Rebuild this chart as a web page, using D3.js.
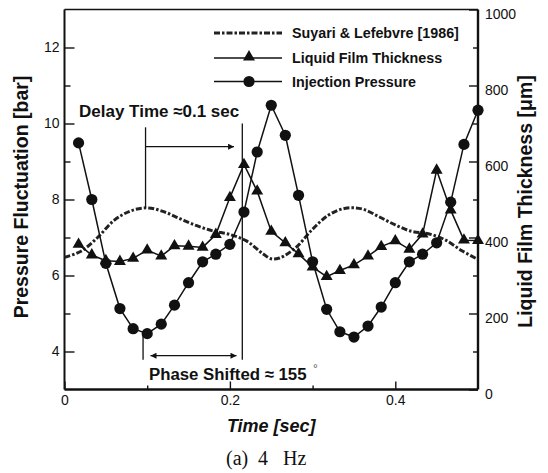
<!DOCTYPE html>
<html>
<head>
<meta charset="utf-8">
<script src="https://cdn.jsdelivr.net/npm/d3@7"></script>
<style>
  body { margin: 0; background: #fff; }
  svg { display: block; font-family: "Liberation Sans", Arial, sans-serif; }
  .tick text { font-size: 14px; fill: #111; }
  .tick line { stroke: #111; stroke-width: 1.4; }
</style>
</head>
<body>
<svg id="chart" width="548" height="473"></svg>
<script>
var timeSec = [0.017, 0.033, 0.050, 0.067, 0.083, 0.100, 0.117, 0.133, 0.150, 0.167,
  0.183, 0.200, 0.217, 0.233, 0.250, 0.267, 0.283, 0.300, 0.317, 0.333,
  0.350, 0.367, 0.383, 0.400, 0.417, 0.433, 0.450, 0.467, 0.483, 0.500];
var injectionPressure = [9.49, 8.00, 6.32, 5.13, 4.60, 4.47, 4.72, 5.22, 5.81, 6.36,
  6.56, 6.82, 7.67, 9.25, 10.48, 9.69, 8.11, 6.36, 5.11, 4.52,
  4.38, 4.67, 5.17, 5.81, 6.36, 6.56, 6.86, 7.93, 9.45, 10.35];
var filmThickness = [382, 354, 339, 337, 345, 367, 351, 378, 377, 374,
  408, 505, 592, 522, 416, 386, 357, 322, 297, 313,
  328, 351, 376, 391, 369, 409, 577, 472, 393, 392];

var suyariTime = [0, 0.02, 0.04, 0.06, 0.08, 0.10, 0.12, 0.14, 0.16, 0.18, 0.20, 0.22, 0.24, 0.25,
  0.26, 0.28, 0.30, 0.32, 0.34, 0.36, 0.38, 0.40, 0.42, 0.44, 0.46, 0.48, 0.50];
var suyariPressure = [6.48, 6.64, 7.00, 7.45, 7.70, 7.78, 7.68, 7.49, 7.31, 7.17, 7.08, 6.91, 6.57, 6.44,
  6.46, 6.74, 7.22, 7.60, 7.77, 7.75, 7.55, 7.33, 7.16, 7.10, 6.94, 6.66, 6.42];

var pressureTicks = [4, 6, 8, 10, 12];
var pressureMinorTicks = [5, 7, 9, 11];
var thicknessTicks = [0, 200, 400, 600, 800, 1000];
var thicknessMinorTicks = [100, 300, 500, 700, 900];
var timeTicks = [0, 0.2, 0.4];
var timeMinorTicks = [0.1, 0.3];
var legendLabels = ['Suyari & Lefebvre [1986]', 'Liquid Film Thickness', 'Injection Pressure'];

var ink = '#111';
var svg = d3.select('#chart');

var x = d3.scaleLinear().domain([0, 0.5]).range([64.5, 478]);
var yP = d3.scaleLinear().domain([3, 13]).range([389.5, 9.5]);
var yT = d3.scaleLinear().domain([0, 1000]).range([389.5, 9.5]);

var defs = svg.append('defs');
defs.append('marker')
  .attr('id', 'arrow')
  .attr('viewBox', '0 0 10 10')
  .attr('refX', 10).attr('refY', 5)
  .attr('markerWidth', 9).attr('markerHeight', 6)
  .attr('markerUnits', 'userSpaceOnUse')
  .attr('orient', 'auto-start-reverse')
  .append('path').attr('d', 'M0,0L10,5L0,10Z').attr('fill', ink);

// axes, ticks pointing into the plot
function noDomain(g) { g.select('.domain').remove(); }

svg.append('g').attr('transform', 'translate(' + x.range()[0] + ',0)')
  .call(d3.axisLeft(yP).tickValues(pressureTicks).tickSize(-10).tickPadding(5))
  .call(noDomain);
svg.append('g').attr('transform', 'translate(' + x.range()[0] + ',0)')
  .call(d3.axisLeft(yP).tickValues(pressureMinorTicks).tickSize(-6).tickFormat(''))
  .call(noDomain);

var rightAxis = svg.append('g').attr('transform', 'translate(' + x.range()[1] + ',0)')
  .call(d3.axisRight(yT).tickValues(thicknessTicks).tickSize(-9).tickPadding(7).tickFormat(d3.format('d')))
  .call(noDomain);
rightAxis.selectAll('text').attr('dy', '0.62em');
svg.append('g').attr('transform', 'translate(' + x.range()[1] + ',0)')
  .call(d3.axisRight(yT).tickValues(thicknessMinorTicks).tickSize(-5).tickFormat(''))
  .call(noDomain);

svg.append('g').attr('transform', 'translate(0,' + yP.range()[0] + ')')
  .call(d3.axisBottom(x).tickValues(timeTicks).tickSize(-8).tickPadding(6)
    .tickFormat(function(d) { return d === 0 ? '0' : d3.format('.1f')(d); }))
  .call(noDomain);
svg.append('g').attr('transform', 'translate(0,' + yP.range()[0] + ')')
  .call(d3.axisBottom(x).tickValues(timeMinorTicks).tickSize(-4).tickFormat(''))
  .call(noDomain);

// frame
var x0 = x.range()[0], x1 = x.range()[1], yb = yP.range()[0], yt = yP.range()[1];
var frame = svg.append('g').attr('stroke', ink).attr('fill', 'none');
frame.append('line').attr('x1', x0).attr('x2', x1).attr('y1', yt).attr('y2', yt).attr('stroke-width', 1.4);
frame.append('line').attr('x1', x0).attr('x2', x1).attr('y1', yb).attr('y2', yb).attr('stroke-width', 2.4);
frame.append('line').attr('x1', x0).attr('x2', x0).attr('y1', yt).attr('y2', yb).attr('stroke-width', 2);
frame.append('line').attr('x1', x1).attr('x2', x1).attr('y1', yt).attr('y2', yb).attr('stroke-width', 2.4);

// series
var suyariLine = d3.line().curve(d3.curveCatmullRom)
  .x(function(d) { return x(d[0]); }).y(function(d) { return yP(d[1]); });
var pressureLine = d3.line()
  .x(function(d) { return x(d[0]); }).y(function(d) { return yP(d[1]); });
var thicknessLine = d3.line()
  .x(function(d) { return x(d[0]); }).y(function(d) { return yT(d[1]); });

var suyariData = d3.zip(suyariTime, suyariPressure);
var pressureData = d3.zip(timeSec, injectionPressure);
var thicknessData = d3.zip(timeSec, filmThickness);

svg.append('path').datum(suyariData)
  .attr('d', suyariLine).attr('fill', 'none').attr('stroke', '#222')
  .attr('stroke-width', 3).attr('stroke-dasharray', '6,2,2.5,2');

svg.append('path').datum(thicknessData)
  .attr('d', thicknessLine).attr('fill', 'none').attr('stroke', ink).attr('stroke-width', 1.5);
var triangle = d3.symbol().type(d3.symbolTriangle).size(62);
svg.append('g').selectAll('path').data(thicknessData).join('path')
  .attr('d', triangle)
  .attr('transform', function(d) { return 'translate(' + x(d[0]) + ',' + yT(d[1]) + ')'; })
  .attr('fill', ink);

svg.append('path').datum(pressureData)
  .attr('d', pressureLine).attr('fill', 'none').attr('stroke', ink).attr('stroke-width', 1.5);
svg.append('g').selectAll('circle').data(pressureData).join('circle')
  .attr('cx', function(d) { return x(d[0]); })
  .attr('cy', function(d) { return yP(d[1]); })
  .attr('r', 5.6).attr('fill', ink);

// annotations
var notes = svg.append('g').attr('stroke', ink).attr('stroke-width', 1.3);
notes.append('line').attr('x1', x(0.098)).attr('x2', x(0.098)).attr('y1', yP(9.9)).attr('y2', yP(7.78));
notes.append('line').attr('x1', x(0.215)).attr('x2', x(0.215)).attr('y1', yP(10.0)).attr('y2', yP(3.78));
notes.append('line').attr('x1', x(0.095)).attr('x2', x(0.095)).attr('y1', yP(4.45)).attr('y2', yP(3.78));
notes.append('line').attr('x1', x(0.098)).attr('x2', x(0.205)).attr('y1', yP(9.39)).attr('y2', yP(9.39))
  .attr('marker-end', 'url(#arrow)');
notes.append('line').attr('x1', x(0.104)).attr('x2', x(0.208)).attr('y1', yP(3.89)).attr('y2', yP(3.89))
  .attr('marker-start', 'url(#arrow)').attr('marker-end', 'url(#arrow)');

svg.append('text').attr('x', 79).attr('y', 116.5)
  .attr('font-size', 17).attr('font-weight', 'bold').attr('fill', ink)
  .text('Delay Time \u22480.1 sec');
svg.append('text').attr('x', 149).attr('y', 379.5)
  .attr('font-size', 16.8).attr('font-weight', 'bold').attr('fill', ink)
  .text('Phase Shifted \u2248 155');
svg.append('text').attr('x', 313).attr('y', 373)
  .attr('font-size', 12).attr('fill', '#555').text('\u00b0');

// legend
var legend = svg.append('g').attr('transform', 'translate(214,33)');
var rows = legend.selectAll('g').data(legendLabels).join('g')
  .attr('transform', function(d, i) { return 'translate(0,' + [0, 25, 48.5][i] + ')'; });
rows.append('line').attr('x1', 0).attr('x2', 68).attr('stroke', function(d, i) { return i ? ink : '#222'; })
  .attr('stroke-width', function(d, i) { return i ? 1.5 : 3; })
  .attr('stroke-dasharray', function(d, i) { return i ? null : '6,2,2.5,2'; });
rows.filter(function(d, i) { return i === 1; }).append('path')
  .attr('d', triangle).attr('transform', 'translate(35,-1)').attr('fill', ink);
rows.filter(function(d, i) { return i === 2; }).append('circle')
  .attr('cx', 35).attr('r', 5.6).attr('fill', ink);
rows.append('text').attr('x', 78).attr('dy', '0.36em')
  .attr('font-size', 14.3).attr('font-weight', 'bold').attr('fill', ink)
  .text(function(d) { return d; });

// axis titles
svg.append('text').attr('transform', 'translate(21,197) rotate(-90)')
  .attr('text-anchor', 'middle').attr('dy', '0.35em')
  .attr('font-size', 19.5).attr('font-weight', 'bold').attr('fill', ink)
  .text('Pressure Fluctuation [bar]');
svg.append('text').attr('transform', 'translate(525,201.5) rotate(-90)')
  .attr('text-anchor', 'middle').attr('dy', '0.35em')
  .attr('font-size', 19.5).attr('font-weight', 'bold').attr('fill', ink)
  .text('Liquid Film Thickness [\u03bcm]');
svg.append('text').attr('x', (x0 + x1) / 2).attr('y', 432)
  .attr('text-anchor', 'middle')
  .attr('font-size', 18).attr('font-weight', 'bold').attr('font-style', 'italic').attr('fill', ink)
  .text('Time [sec]');

var caption = svg.append('text').attr('y', 465)
  .attr('font-family', '"Liberation Serif", "Times New Roman", serif')
  .attr('font-size', 20).attr('fill', ink);
caption.append('tspan').attr('x', 226).text('(a)');
caption.append('tspan').attr('x', 258).text('4');
caption.append('tspan').attr('x', 283).text('Hz');
</script>
</body>
</html>
